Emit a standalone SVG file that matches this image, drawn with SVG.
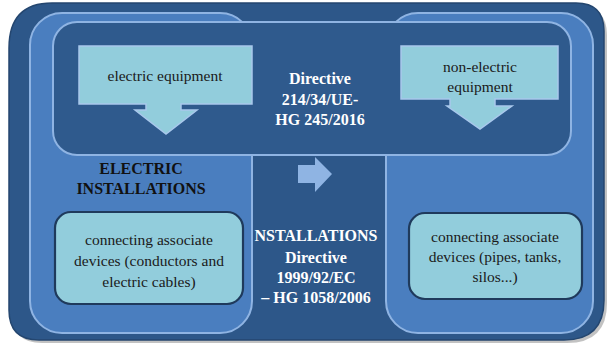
<svg xmlns="http://www.w3.org/2000/svg" width="609" height="346" viewBox="0 0 609 346">
<style>
.col{fill:#4a7ebf;stroke:#8fb4e3;stroke-width:2}
.band{fill:#2f5a8d;stroke:#8fb4e3;stroke-width:2}
.arr{fill:#92cddc;stroke:#a9c8ec;stroke-width:1.5}
.box{fill:#92cddc;stroke:#1f3a5c;stroke-width:2.2}
text{font-family:'Liberation Serif','Times New Roman','DejaVu Serif',serif}
.t{font-size:15.5px;fill:#1a1a1a;text-anchor:middle}
.w{font-size:16px;font-weight:bold;fill:#ffffff;text-anchor:middle}
.b{font-size:16px;font-weight:bold;fill:#111111;text-anchor:middle}
</style>
<g id="frame">
<path d="M54,6 H578 Q607,6 607,35 V303 Q607,343 567,343 H42 Q12,343 12,313 V51 Q12,6 54,6 Z" fill="#9a9a9a" opacity="0.6"/>
<path d="M52,3 H576 Q604,3 604,31 V300 Q604,340 564,340 H39 Q9,340 9,310 V48 Q9,3 52,3 Z" fill="#2d5789" stroke="#24466f" stroke-width="1.5"/>
</g>
<g id="left-column"><rect class="col" x="30" y="13" width="222" height="320" rx="32"/></g>
<g id="right-column"><rect class="col" x="386" y="13" width="207" height="320" rx="32"/></g>
<g id="top-band"><rect class="band" x="53" y="22" width="518" height="133" rx="24"/></g>
<g id="electric-equipment">
<path class="arr" d="M79,46 H252 V104 H181 V110 H197 L166,134 L135,110 H146 V104 H79 Z"/>
<text class="t" x="165" y="81">electric equipment</text>
</g>
<g id="non-electric-equipment">
<path class="arr" d="M401,46 H558 V99 H495 V106 H512 L480,129 L447,106 H450 V99 H401 Z"/>
<text class="t" x="480" y="72">non-electric</text>
<text class="t" x="480" y="92">equipment</text>
</g>
<g id="directive-top">
<text class="w" x="320" y="84">Directive</text>
<text class="w" x="320" y="105">214/34/UE-</text>
<text class="w" x="320" y="125">HG 245/2016</text>
</g>
<g id="electric-installations">
<text class="b" x="141" y="174">ELECTRIC</text>
<text class="b" x="141" y="194">INSTALLATIONS</text>
</g>
<g id="electric-devices">
<rect class="box" x="55" y="212" width="188" height="92" rx="16"/>
<text class="t" x="149" y="245">connecting associate</text>
<text class="t" x="149" y="266">devices (conductors and</text>
<text class="t" x="149" y="287">electric cables)</text>
</g>
<g id="non-electric-devices">
<rect class="box" x="409" y="213" width="173" height="86" rx="16"/>
<text class="t" x="495" y="242">connecting associate</text>
<text class="t" x="495" y="262">devices (pipes, tanks,</text>
<text class="t" x="495" y="282">silos...)</text>
</g>
<g id="directive-bottom">
<text class="w" x="316" y="241">NSTALLATIONS</text>
<text class="w" x="316" y="263">Directive</text>
<text class="w" x="316" y="283">1999/92/EC</text>
<text class="w" x="316" y="303">– HG 1058/2006</text>
</g>
<g id="connectors">
<path d="M298,165 H315 V157 L332,174 L315,192 V183 H298 Z" fill="#8fb4e3"/>
</g>
</svg>
